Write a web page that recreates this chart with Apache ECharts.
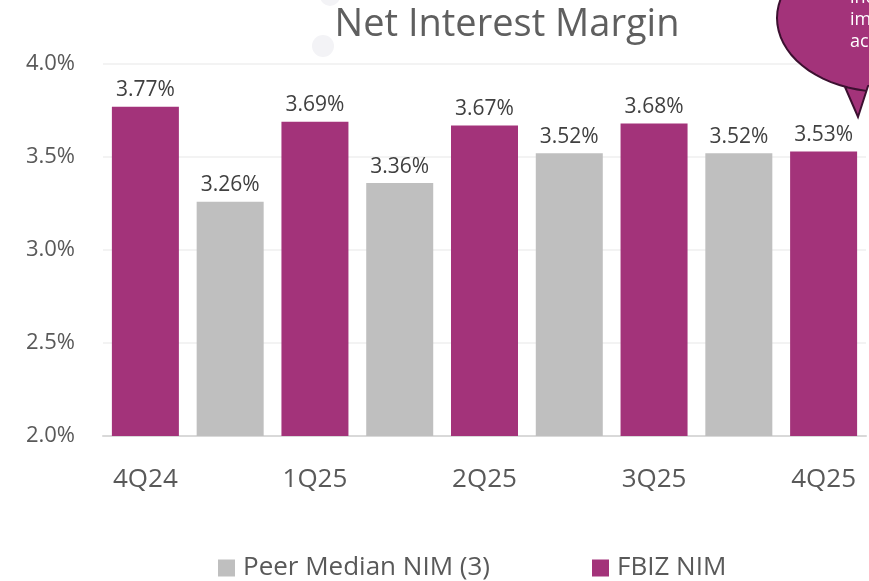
<!DOCTYPE html>
<html>
<head>
<meta charset="utf-8">
<script src="https://cdn.jsdelivr.net/npm/echarts@6/dist/echarts.min.js"></script>
<style>
  html, body { margin: 0; padding: 0; background: #fff; }
  #chart { width: 869px; height: 581px; }
</style>
</head>
<body>
<div id="chart"></div>
<script>
// quarters, each one has an FBIZ slot and a peer slot
const slots = ['4Q24', '4Q24 peer', '1Q25', '1Q25 peer', '2Q25', '2Q25 peer', '3Q25', '3Q25 peer', '4Q25'];
const fbizNim = [3.77, null, 3.69, null, 3.67, null, 3.68, null, 3.53];
const peerNim = [null, 3.26, null, 3.36, null, 3.52, null, 3.52, null];
const yTicks = [2.0, 2.5, 3.0, 3.5, 4.0];

const purple = '#a3337a';
const grey = '#bfbfbf';
const font = 'Open Sans';

// outline of the speech bubble peeking in at the top right (decoration only)
function bubblePoints() {
  const pts = [];
  const cx = 885, cy = 18, rx = 108, ry = 74;
  for (let a = 100; a <= 260; a += 5) {
    const t = a * Math.PI / 180;
    pts.push([cx + rx * Math.cos(t), cy - ry * Math.sin(t)]);
  }
  pts.push([845, 87], [858, 117], [868, 86], [900, 80], [900, -60]);
  return pts;
}

const chart = echarts.init(document.getElementById('chart'));

const valueLabel = {
  show: true,
  position: 'top',
  distance: 6,
  fontFamily: font,
  fontSize: 21,
  color: '#404040',
  formatter: p => p.value.toFixed(2) + '%'
};

chart.setOption({
  animation: false,
  title: {
    text: 'Net Interest Margin',
    left: 502,
    textAlign: 'center',
    top: 1,
    textStyle: { fontFamily: font, fontSize: 38, fontWeight: 'normal', color: '#5f5f5f' }
  },
  legend: {
    bottom: -5,
    left: 213,
    itemWidth: 17,
    itemHeight: 17,
    itemGap: 102,
    icon: 'rect',
    data: ['Peer Median NIM (3)', 'FBIZ NIM'],
    textStyle: { fontFamily: font, fontSize: 26, color: '#595959', padding: [0, 0, 0, 3] }
  },
  grid: { left: 103, right: 3, top: 64, bottom: 145 },
  xAxis: {
    type: 'category',
    data: slots,
    axisTick: { show: false },
    axisLine: { lineStyle: { color: '#d9d9d9', width: 2 } },
    axisLabel: {
      interval: 1,
      margin: 31,
      fontFamily: font,
      fontSize: 26,
      color: '#595959'
    }
  },
  yAxis: {
    type: 'value',
    min: 2.0,
    max: 4.0,
    interval: 0.5,
    axisLine: { show: false },
    axisTick: { show: false },
    splitLine: { lineStyle: { color: '#efefef', width: 1.5 } },
    axisLabel: {
      margin: 28,
      fontFamily: font,
      fontSize: 22,
      color: '#595959',
      formatter: v => yTicks.includes(v) ? v.toFixed(1) + '%' : ''
    }
  },
  series: [
    {
      name: 'Peer Median NIM (3)',
      type: 'bar',
      data: peerNim,
      barWidth: 67,
      barGap: '-100%',
      itemStyle: { color: grey },
      label: valueLabel
    },
    {
      name: 'FBIZ NIM',
      type: 'bar',
      data: fbizNim,
      barWidth: 67,
      barGap: '-100%',
      itemStyle: { color: purple },
      label: valueLabel
    }
  ],
  graphic: [
    // faint decoration circles near the title
    { type: 'circle', shape: { cx: 323, cy: 46, r: 11 }, style: { fill: '#f3f3f6' }, z: -1 },
    { type: 'circle', shape: { cx: 330, cy: -4, r: 10 }, style: { fill: '#f3f3f6' }, z: -1 },
    {
      type: 'polygon',
      shape: { points: bubblePoints() },
      style: { fill: purple, stroke: '#3c1030', lineWidth: 2 },
      z: 10
    },
    {
      type: 'text',
      left: 850,
      top: -13,
      style: {
        text: 'inc\nim\nac',
        fill: '#ffffff',
        fontFamily: font,
        fontSize: 18,
        lineHeight: 22
      },
      z: 11
    }
  ]
});
</script>
</body>
</html>
